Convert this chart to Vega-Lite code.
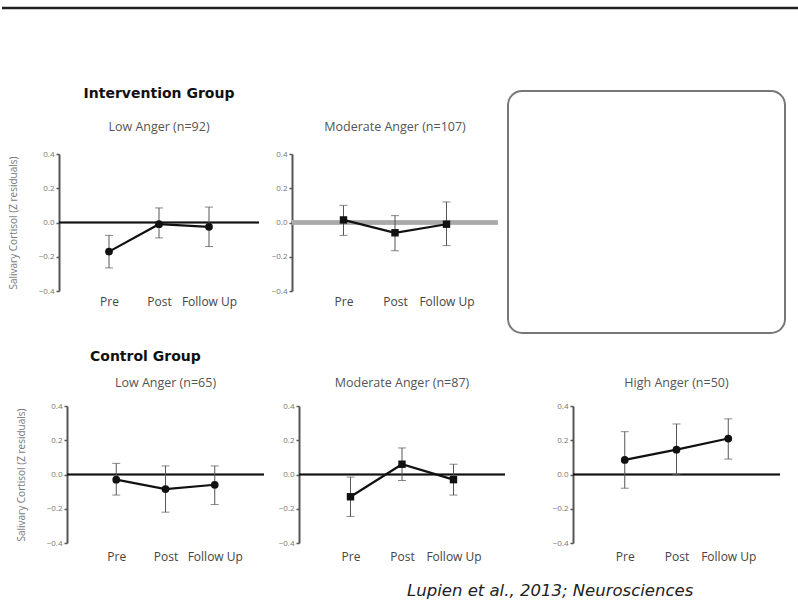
{
  "$schema": "https://vega.github.io/schema/vega-lite/v6.json",
  "background": "white",
  "padding": {"top": 6, "left": 0, "right": 0, "bottom": 0},
  "spacing": 15,
  "datasets": {
    "cortisol": [
      {"panel": "IntLow", "time": "Pre", "mean": -0.17, "lo": -0.265, "hi": -0.075},
      {"panel": "IntLow", "time": "Post", "mean": -0.01, "lo": -0.09, "hi": 0.085},
      {"panel": "IntLow", "time": "Follow Up", "mean": -0.025, "lo": -0.14, "hi": 0.09},
      {"panel": "IntMod", "time": "Pre", "mean": 0.015, "lo": -0.075, "hi": 0.1},
      {"panel": "IntMod", "time": "Post", "mean": -0.06, "lo": -0.165, "hi": 0.04},
      {"panel": "IntMod", "time": "Follow Up", "mean": -0.01, "lo": -0.135, "hi": 0.12},
      {"panel": "CtrlLow", "time": "Pre", "mean": -0.03, "lo": -0.12, "hi": 0.065},
      {"panel": "CtrlLow", "time": "Post", "mean": -0.085, "lo": -0.22, "hi": 0.05},
      {"panel": "CtrlLow", "time": "Follow Up", "mean": -0.06, "lo": -0.175, "hi": 0.05},
      {"panel": "CtrlMod", "time": "Pre", "mean": -0.13, "lo": -0.245, "hi": -0.015},
      {"panel": "CtrlMod", "time": "Post", "mean": 0.06, "lo": -0.035, "hi": 0.155},
      {"panel": "CtrlMod", "time": "Follow Up", "mean": -0.03, "lo": -0.12, "hi": 0.06},
      {"panel": "CtrlHigh", "time": "Pre", "mean": 0.085, "lo": -0.08, "hi": 0.25},
      {"panel": "CtrlHigh", "time": "Post", "mean": 0.145, "lo": 0.0, "hi": 0.295},
      {"panel": "CtrlHigh", "time": "Follow Up", "mean": 0.21, "lo": 0.09, "hi": 0.325}
    ]
  },
  "title": {"text": "Lupien et al., 2013; Neurosciences", "orient": "bottom", "anchor": "end", "font": "DejaVu Sans", "fontStyle": "italic", "fontWeight": "normal", "fontSize": 16.5, "color": "#222", "offset": 21, "dx": -108},
  "vconcat": [
    {
      "width": 798, "height": 62,
      "data": {"values": [{}]},
      "mark": {"type": "rule", "color": "#222", "strokeWidth": 2.5},
      "encoding": {"y": {"datum": 1, "type": "quantitative", "scale": {"domain": [0, 1]}, "axis": null}}
    },
    {
      "spacing": 7,
      "hconcat": [
        {
          "spacing": 0,
          "vconcat": [
            {"width": 1, "height": 1, "data": {"values": []}, "mark": "point"},
            {
              "spacing": 5,
              "hconcat": [
                {"width": 1, "height": 1, "data": {"values": []}, "mark": "point"},
                {
                  "width": 200, "height": 137,
                  "title": {"text": "Intervention Group", "subtitle": "Low Anger (n=92)", "anchor": "middle", "font": "DejaVu Sans", "fontSize": 14, "fontWeight": "bold", "color": "#111", "subtitleFont": "Open Sans", "subtitleFontSize": 12.5, "subtitleColor": "#555", "subtitlePadding": 20, "offset": 17},
                  "data": {"name": "cortisol"},
                  "transform": [{"filter": "datum.panel === 'IntLow'"}],
                  "layer": [
                    {"mark": {"type": "rule", "color": "#111", "strokeWidth": 1.5}, "encoding": {"y": {"datum": 0, "type": "quantitative", "title": "Salivary Cortisol (Z residuals)", "scale": {"domain": [-0.4, 0.4], "nice": false}, "axis": {"values": [-0.4, -0.2, 0, 0.2, 0.4], "format": ".1f"}}}},
                    {"mark": {"type": "rule", "color": "#555", "strokeWidth": 1}, "encoding": {"x": {"field": "time", "type": "ordinal", "sort": ["Pre", "Post", "Follow Up"], "scale": {"type": "point", "padding": 1}, "title": null, "axis": {"labelPadding": 5}}, "y": {"field": "lo", "type": "quantitative", "title": "Salivary Cortisol (Z residuals)", "axis": {"values": [-0.4, -0.2, 0, 0.2, 0.4], "format": ".1f"}}, "y2": {"field": "hi"}}},
                    {"mark": {"type": "tick", "color": "#555", "size": 8, "thickness": 1}, "encoding": {"x": {"field": "time", "type": "ordinal", "sort": ["Pre", "Post", "Follow Up"], "title": null}, "y": {"field": "lo", "type": "quantitative", "title": "Salivary Cortisol (Z residuals)", "axis": {"values": [-0.4, -0.2, 0, 0.2, 0.4], "format": ".1f"}}}},
                    {"mark": {"type": "tick", "color": "#555", "size": 8, "thickness": 1}, "encoding": {"x": {"field": "time", "type": "ordinal", "sort": ["Pre", "Post", "Follow Up"], "title": null}, "y": {"field": "hi", "type": "quantitative", "title": "Salivary Cortisol (Z residuals)", "axis": {"values": [-0.4, -0.2, 0, 0.2, 0.4], "format": ".1f"}}}},
                    {"mark": {"type": "line", "color": "#111", "strokeWidth": 2.2}, "encoding": {"x": {"field": "time", "type": "ordinal", "sort": ["Pre", "Post", "Follow Up"], "title": null}, "y": {"field": "mean", "type": "quantitative", "title": "Salivary Cortisol (Z residuals)", "axis": {"values": [-0.4, -0.2, 0, 0.2, 0.4], "format": ".1f"}}}},
                    {"mark": {"type": "point", "shape": "circle", "filled": true, "color": "#111", "size": 60, "opacity": 1}, "encoding": {"x": {"field": "time", "type": "ordinal", "sort": ["Pre", "Post", "Follow Up"], "title": null}, "y": {"field": "mean", "type": "quantitative", "title": "Salivary Cortisol (Z residuals)", "axis": {"values": [-0.4, -0.2, 0, 0.2, 0.4], "format": ".1f"}}}}
                  ]
                },
                {"width": 1, "height": 1, "data": {"values": []}, "mark": "point"},
                {
                  "width": 206, "height": 137,
                  "title": {"text": " ", "subtitle": "Moderate Anger (n=107)", "anchor": "middle", "font": "DejaVu Sans", "fontSize": 14, "fontWeight": "bold", "color": "#111", "subtitleFont": "Open Sans", "subtitleFontSize": 12.5, "subtitleColor": "#555", "subtitlePadding": 20, "offset": 17},
                  "data": {"name": "cortisol"},
                  "transform": [{"filter": "datum.panel === 'IntMod'"}],
                  "layer": [
                    {"mark": {"type": "rule", "color": "#aaa", "strokeWidth": 4}, "encoding": {"y": {"datum": 0, "type": "quantitative", "title": null, "scale": {"domain": [-0.4, 0.4], "nice": false}, "axis": {"values": [-0.4, -0.2, 0, 0.2, 0.4], "format": ".1f"}}}},
                    {"mark": {"type": "rule", "color": "#555", "strokeWidth": 1}, "encoding": {"x": {"field": "time", "type": "ordinal", "sort": ["Pre", "Post", "Follow Up"], "scale": {"type": "point", "padding": 1}, "title": null, "axis": {"labelPadding": 5}}, "y": {"field": "lo", "type": "quantitative", "title": null, "axis": {"values": [-0.4, -0.2, 0, 0.2, 0.4], "format": ".1f"}}, "y2": {"field": "hi"}}},
                    {"mark": {"type": "tick", "color": "#555", "size": 8, "thickness": 1}, "encoding": {"x": {"field": "time", "type": "ordinal", "sort": ["Pre", "Post", "Follow Up"], "title": null}, "y": {"field": "lo", "type": "quantitative", "title": null, "axis": {"values": [-0.4, -0.2, 0, 0.2, 0.4], "format": ".1f"}}}},
                    {"mark": {"type": "tick", "color": "#555", "size": 8, "thickness": 1}, "encoding": {"x": {"field": "time", "type": "ordinal", "sort": ["Pre", "Post", "Follow Up"], "title": null}, "y": {"field": "hi", "type": "quantitative", "title": null, "axis": {"values": [-0.4, -0.2, 0, 0.2, 0.4], "format": ".1f"}}}},
                    {"mark": {"type": "line", "color": "#111", "strokeWidth": 2.2}, "encoding": {"x": {"field": "time", "type": "ordinal", "sort": ["Pre", "Post", "Follow Up"], "title": null}, "y": {"field": "mean", "type": "quantitative", "title": null, "axis": {"values": [-0.4, -0.2, 0, 0.2, 0.4], "format": ".1f"}}}},
                    {"mark": {"type": "point", "shape": "square", "filled": true, "color": "#111", "size": 55, "opacity": 1}, "encoding": {"x": {"field": "time", "type": "ordinal", "sort": ["Pre", "Post", "Follow Up"], "title": null}, "y": {"field": "mean", "type": "quantitative", "title": null, "axis": {"values": [-0.4, -0.2, 0, 0.2, 0.4], "format": ".1f"}}}}
                  ]
                }
              ]
            }
          ]
        },
        {
          "spacing": 4,
          "vconcat": [
            {"width": 1, "height": 1, "data": {"values": []}, "mark": "point"},
            {"width": 277, "height": 242, "data": {"values": []}, "mark": "point", "view": {"stroke": "#777", "strokeWidth": 2, "cornerRadius": 14, "fill": "white"}}
          ]
        }
      ]
    },
    {
      "spacing": 13,
      "title": {"text": "Control Group", "anchor": "start", "dx": 88, "font": "DejaVu Sans", "fontSize": 14, "fontWeight": "bold", "color": "#111", "offset": 13},
      "hconcat": [
        {"width": 1, "height": 1, "data": {"values": []}, "mark": "point"},
        {
          "width": 197, "height": 137,
          "title": {"text": "Low Anger (n=65)", "anchor": "middle", "font": "Open Sans", "fontSize": 12.5, "fontWeight": "normal", "color": "#555", "offset": 13},
          "data": {"name": "cortisol"},
          "transform": [{"filter": "datum.panel === 'CtrlLow'"}],
          "layer": [
            {"mark": {"type": "rule", "color": "#111", "strokeWidth": 1.5}, "encoding": {"y": {"datum": 0, "type": "quantitative", "title": "Salivary Cortisol (Z residuals)", "scale": {"domain": [-0.4, 0.4], "nice": false}, "axis": {"values": [-0.4, -0.2, 0, 0.2, 0.4], "format": ".1f"}}}},
            {"mark": {"type": "rule", "color": "#555", "strokeWidth": 1}, "encoding": {"x": {"field": "time", "type": "ordinal", "sort": ["Pre", "Post", "Follow Up"], "scale": {"type": "point", "padding": 1}, "title": null, "axis": {"labelPadding": 8}}, "y": {"field": "lo", "type": "quantitative", "title": "Salivary Cortisol (Z residuals)", "axis": {"values": [-0.4, -0.2, 0, 0.2, 0.4], "format": ".1f"}}, "y2": {"field": "hi"}}},
            {"mark": {"type": "tick", "color": "#555", "size": 8, "thickness": 1}, "encoding": {"x": {"field": "time", "type": "ordinal", "sort": ["Pre", "Post", "Follow Up"], "title": null}, "y": {"field": "lo", "type": "quantitative", "title": "Salivary Cortisol (Z residuals)", "axis": {"values": [-0.4, -0.2, 0, 0.2, 0.4], "format": ".1f"}}}},
            {"mark": {"type": "tick", "color": "#555", "size": 8, "thickness": 1}, "encoding": {"x": {"field": "time", "type": "ordinal", "sort": ["Pre", "Post", "Follow Up"], "title": null}, "y": {"field": "hi", "type": "quantitative", "title": "Salivary Cortisol (Z residuals)", "axis": {"values": [-0.4, -0.2, 0, 0.2, 0.4], "format": ".1f"}}}},
            {"mark": {"type": "line", "color": "#111", "strokeWidth": 2.2}, "encoding": {"x": {"field": "time", "type": "ordinal", "sort": ["Pre", "Post", "Follow Up"], "title": null}, "y": {"field": "mean", "type": "quantitative", "title": "Salivary Cortisol (Z residuals)", "axis": {"values": [-0.4, -0.2, 0, 0.2, 0.4], "format": ".1f"}}}},
            {"mark": {"type": "point", "shape": "circle", "filled": true, "color": "#111", "size": 60, "opacity": 1}, "encoding": {"x": {"field": "time", "type": "ordinal", "sort": ["Pre", "Post", "Follow Up"], "title": null}, "y": {"field": "mean", "type": "quantitative", "title": "Salivary Cortisol (Z residuals)", "axis": {"values": [-0.4, -0.2, 0, 0.2, 0.4], "format": ".1f"}}}}
          ]
        },
        {
          "width": 206, "height": 137,
          "title": {"text": "Moderate Anger (n=87)", "anchor": "middle", "font": "Open Sans", "fontSize": 12.5, "fontWeight": "normal", "color": "#555", "offset": 13},
          "data": {"name": "cortisol"},
          "transform": [{"filter": "datum.panel === 'CtrlMod'"}],
          "layer": [
            {"mark": {"type": "rule", "color": "#111", "strokeWidth": 1.5}, "encoding": {"y": {"datum": 0, "type": "quantitative", "title": null, "scale": {"domain": [-0.4, 0.4], "nice": false}, "axis": {"values": [-0.4, -0.2, 0, 0.2, 0.4], "format": ".1f"}}}},
            {"mark": {"type": "rule", "color": "#555", "strokeWidth": 1}, "encoding": {"x": {"field": "time", "type": "ordinal", "sort": ["Pre", "Post", "Follow Up"], "scale": {"type": "point", "padding": 1}, "title": null, "axis": {"labelPadding": 8}}, "y": {"field": "lo", "type": "quantitative", "title": null, "axis": {"values": [-0.4, -0.2, 0, 0.2, 0.4], "format": ".1f"}}, "y2": {"field": "hi"}}},
            {"mark": {"type": "tick", "color": "#555", "size": 8, "thickness": 1}, "encoding": {"x": {"field": "time", "type": "ordinal", "sort": ["Pre", "Post", "Follow Up"], "title": null}, "y": {"field": "lo", "type": "quantitative", "title": null, "axis": {"values": [-0.4, -0.2, 0, 0.2, 0.4], "format": ".1f"}}}},
            {"mark": {"type": "tick", "color": "#555", "size": 8, "thickness": 1}, "encoding": {"x": {"field": "time", "type": "ordinal", "sort": ["Pre", "Post", "Follow Up"], "title": null}, "y": {"field": "hi", "type": "quantitative", "title": null, "axis": {"values": [-0.4, -0.2, 0, 0.2, 0.4], "format": ".1f"}}}},
            {"mark": {"type": "line", "color": "#111", "strokeWidth": 2.2}, "encoding": {"x": {"field": "time", "type": "ordinal", "sort": ["Pre", "Post", "Follow Up"], "title": null}, "y": {"field": "mean", "type": "quantitative", "title": null, "axis": {"values": [-0.4, -0.2, 0, 0.2, 0.4], "format": ".1f"}}}},
            {"mark": {"type": "point", "shape": "square", "filled": true, "color": "#111", "size": 55, "opacity": 1}, "encoding": {"x": {"field": "time", "type": "ordinal", "sort": ["Pre", "Post", "Follow Up"], "title": null}, "y": {"field": "mean", "type": "quantitative", "title": null, "axis": {"values": [-0.4, -0.2, 0, 0.2, 0.4], "format": ".1f"}}}}
          ]
        },
        {"width": 20, "height": 1, "data": {"values": []}, "mark": "point"},
        {
          "width": 207, "height": 137,
          "title": {"text": "High Anger (n=50)", "anchor": "middle", "font": "Open Sans", "fontSize": 12.5, "fontWeight": "normal", "color": "#555", "offset": 13},
          "data": {"name": "cortisol"},
          "transform": [{"filter": "datum.panel === 'CtrlHigh'"}],
          "layer": [
            {"mark": {"type": "rule", "color": "#111", "strokeWidth": 1.5}, "encoding": {"y": {"datum": 0, "type": "quantitative", "title": null, "scale": {"domain": [-0.4, 0.4], "nice": false}, "axis": {"values": [-0.4, -0.2, 0, 0.2, 0.4], "format": ".1f"}}}},
            {"mark": {"type": "rule", "color": "#555", "strokeWidth": 1}, "encoding": {"x": {"field": "time", "type": "ordinal", "sort": ["Pre", "Post", "Follow Up"], "scale": {"type": "point", "padding": 1}, "title": null, "axis": {"labelPadding": 8}}, "y": {"field": "lo", "type": "quantitative", "title": null, "axis": {"values": [-0.4, -0.2, 0, 0.2, 0.4], "format": ".1f"}}, "y2": {"field": "hi"}}},
            {"mark": {"type": "tick", "color": "#555", "size": 8, "thickness": 1}, "encoding": {"x": {"field": "time", "type": "ordinal", "sort": ["Pre", "Post", "Follow Up"], "title": null}, "y": {"field": "lo", "type": "quantitative", "title": null, "axis": {"values": [-0.4, -0.2, 0, 0.2, 0.4], "format": ".1f"}}}},
            {"mark": {"type": "tick", "color": "#555", "size": 8, "thickness": 1}, "encoding": {"x": {"field": "time", "type": "ordinal", "sort": ["Pre", "Post", "Follow Up"], "title": null}, "y": {"field": "hi", "type": "quantitative", "title": null, "axis": {"values": [-0.4, -0.2, 0, 0.2, 0.4], "format": ".1f"}}}},
            {"mark": {"type": "line", "color": "#111", "strokeWidth": 2.2}, "encoding": {"x": {"field": "time", "type": "ordinal", "sort": ["Pre", "Post", "Follow Up"], "title": null}, "y": {"field": "mean", "type": "quantitative", "title": null, "axis": {"values": [-0.4, -0.2, 0, 0.2, 0.4], "format": ".1f"}}}},
            {"mark": {"type": "point", "shape": "circle", "filled": true, "color": "#111", "size": 60, "opacity": 1}, "encoding": {"x": {"field": "time", "type": "ordinal", "sort": ["Pre", "Post", "Follow Up"], "title": null}, "y": {"field": "mean", "type": "quantitative", "title": null, "axis": {"values": [-0.4, -0.2, 0, 0.2, 0.4], "format": ".1f"}}}}
          ]
        }
      ]
    }
  ],
  "config": {
    "view": {"stroke": null},
    "axisY": {"domainColor": "#555", "domainWidth": 2, "tickColor": "#555", "tickWidth": 1.5, "tickSize": 3, "tickCount": 5, "labelPadding": 2, "labelFont": "Open Sans", "labelFontSize": 8, "labelColor": "#777", "labelOverlap": false, "grid": false, "titleFont": "Open Sans", "titleFontSize": 10, "titleFontWeight": "normal", "titleColor": "#777", "titlePadding": 20},
    "axisX": {"domain": false, "ticks": false, "grid": false, "labelFont": "Open Sans", "labelFontSize": 12, "labelColor": "#444", "labelAngle": 0}
  }
}
